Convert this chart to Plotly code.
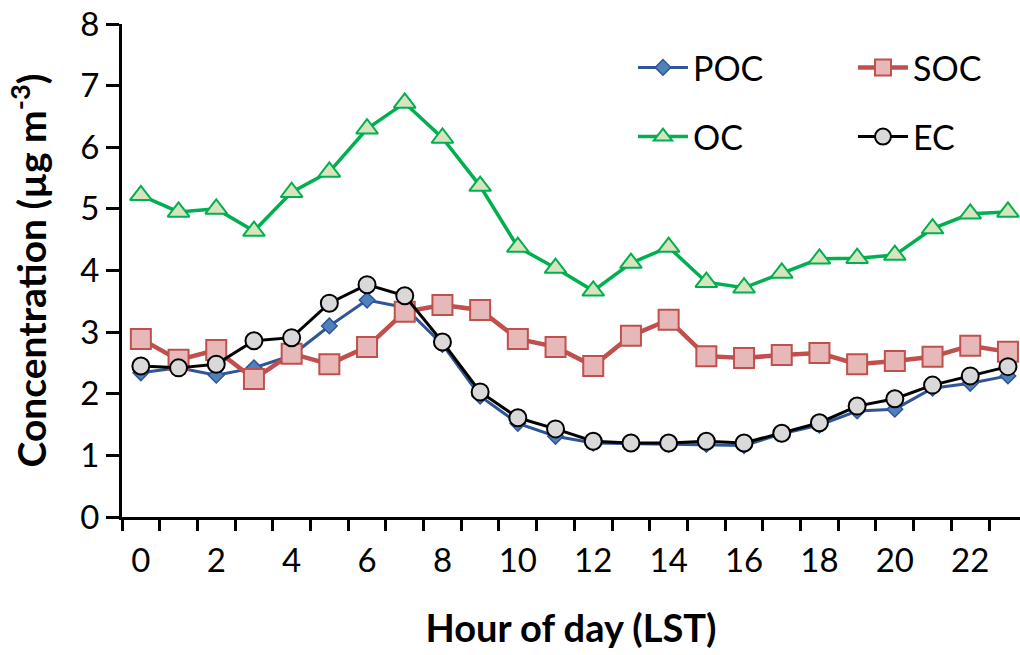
import plotly.graph_objects as go

hours = list(range(24))
x_tick_labels = [str(h) for h in range(0, 24, 2)]
y_tick_labels = [str(v) for v in range(0, 9)]

poc = [2.34, 2.42, 2.30, 2.42, 2.62, 3.10, 3.52, 3.40, 2.80, 1.96, 1.52, 1.31, 1.20, 1.19, 1.18, 1.18, 1.16, 1.35, 1.49, 1.72, 1.75, 2.09, 2.17, 2.29]
soc = [2.89, 2.55, 2.71, 2.24, 2.65, 2.48, 2.76, 3.33, 3.44, 3.36, 2.89, 2.76, 2.45, 2.94, 3.20, 2.61, 2.58, 2.63, 2.66, 2.48, 2.53, 2.60, 2.78, 2.68]
oc = [5.22, 4.95, 5.00, 4.64, 5.27, 5.60, 6.30, 6.72, 6.15, 5.37, 4.38, 4.04, 3.67, 4.12, 4.38, 3.81, 3.72, 3.96, 4.19, 4.20, 4.25, 4.68, 4.92, 4.95]
ec = [2.45, 2.42, 2.48, 2.86, 2.91, 3.47, 3.77, 3.59, 2.84, 2.03, 1.61, 1.43, 1.23, 1.20, 1.20, 1.23, 1.20, 1.36, 1.53, 1.80, 1.92, 2.14, 2.29, 2.44]

FONT = "Lato"

fig = go.Figure()
fig.add_trace(go.Scatter(
    x=hours, y=poc, name="POC", mode="lines+markers", legend="legend", legendgroup="a",
    line=dict(color="#2F5597", width=3),
    marker=dict(symbol="diamond", size=12, color="#4F81BD", line=dict(color="#2F5597", width=1.5))))
fig.add_trace(go.Scatter(
    x=hours, y=soc, name="SOC", mode="lines+markers", legend="legend2", legendgroup="b",
    line=dict(color="#C0504D", width=4.5),
    marker=dict(symbol="square", size=20, color="#E6B9B8", line=dict(color="#C0504D", width=2))))
fig.add_trace(go.Scatter(
    x=hours, y=oc, name="OC", mode="lines+markers", legend="legend", legendgroup="c",
    line=dict(color="#00B050", width=3.5),
    marker=dict(symbol="triangle-up", size=19, color="#D7E4BD", line=dict(color="#00B050", width=2))))
fig.add_trace(go.Scatter(
    x=hours, y=ec, name="EC", mode="lines+markers", legend="legend2", legendgroup="d",
    line=dict(color="#000000", width=3),
    marker=dict(symbol="circle", size=17, color="#D9D9D9", line=dict(color="#000000", width=2))))

legend_common = dict(
    font=dict(family=FONT, size=34, color="black"),
    bgcolor="rgba(0,0,0,0)", borderwidth=0, tracegroupgap=22,
    xanchor="left", yanchor="top", itemwidth=50)

fig.update_layout(
    width=1020, height=655,
    margin=dict(l=122, r=0, t=24, b=138),
    plot_bgcolor="white", paper_bgcolor="white",
    font=dict(family=FONT, color="black"),
    legend=dict(x=0.569, y=0.97, **legend_common),
    legend2=dict(x=0.814, y=0.97, **legend_common),
    xaxis=dict(
        range=[-0.5, 23.32], showgrid=False, zeroline=False,
        showline=True, linecolor="black", linewidth=3,
        tickmode="array", tickvals=list(range(0, 24, 2)), ticktext=x_tick_labels,
        ticks="", ticklabelstandoff=12,
        tickfont=dict(family=FONT, size=33, color="black"),
        minor=dict(tickmode="linear", tick0=-0.5, dtick=1, ticks="outside", ticklen=11, tickwidth=2.5, tickcolor="black"),
        title=dict(text="<b>Hour of day (LST)</b>", font=dict(family=FONT, size=38, color="black"), standoff=38),
    ),
    yaxis=dict(
        range=[0, 8], showgrid=False, zeroline=False,
        showline=True, linecolor="black", linewidth=3,
        tickmode="array", tickvals=list(range(0, 9)), ticktext=y_tick_labels,
        ticks="outside", ticklen=13, tickwidth=2.5, tickcolor="black",
        tickfont=dict(family=FONT, size=33, color="black"),
        title=dict(text="<b>Concentration (µg m<sup>-3</sup>)</b>", font=dict(family=FONT, size=39, color="black"), standoff=22),
    ),
)

fig.write_html("out.html")
